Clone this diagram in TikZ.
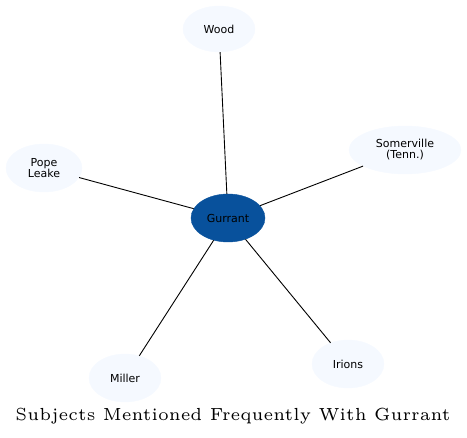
\documentclass[tikz,border=0pt]{standalone}
\usepackage{fontspec}
\usetikzlibrary{shapes.geometric}
\newfontfamily\nodefont{DejaVu Sans}
\definecolor{lightfill}{HTML}{F5F9FF}
\definecolor{darkfill}{HTML}{08519C}
\begin{document}
\begin{tikzpicture}[x=1pt,y=-1pt,
  subj/.style={ellipse, fill=lightfill, draw=lightfill, inner sep=0pt,
    font=\nodefont\fontsize{11}{11}\selectfont, align=center},
  center/.style={subj, fill=darkfill, draw=darkfill},
  link/.style={draw=black, line width=0.9pt}]
\useasboundingbox (0,0) rectangle (467,438);
\node[subj, minimum width=72pt, minimum height=46pt] (wood) at (219,29) {Wood};
\node[center, minimum width=74pt, minimum height=48pt] (g) at (228,218) {Gurrant};
\node[subj, minimum width=112pt, minimum height=48pt] (som) at (405,150) {Somerville\\(Tenn.)};
\node[subj, minimum width=76pt, minimum height=48pt] (pope) at (44,168) {Pope\\Leake};
\node[subj, minimum width=72pt, minimum height=48pt] (miller) at (125,378) {Miller};
\node[subj, minimum width=72pt, minimum height=48pt] (irions) at (348,364) {Irions};
\draw[link] (g) -- (wood);
\draw[link] (g) -- (som);
\draw[link] (g) -- (pope);
\draw[link] (g) -- (miller);
\draw[link] (g) -- (irions);
\node[inner sep=0pt] (title) at (233,416) {\scalebox{3.18}[3.5]{\fontsize{5}{6}\selectfont Subjects Mentioned Frequently With Gurrant}};
\end{tikzpicture}
\end{document}
